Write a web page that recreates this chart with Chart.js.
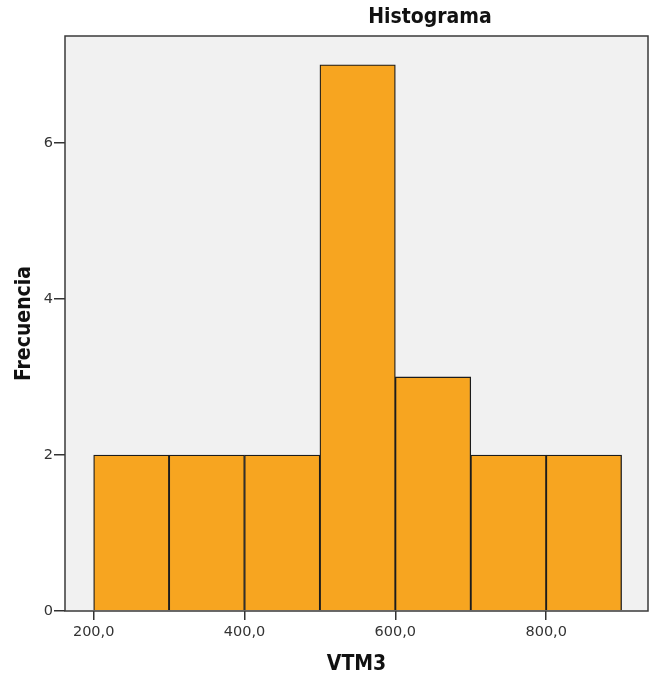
<!DOCTYPE html>
<html>
<head>
<meta charset="utf-8">
<script src="https://cdn.jsdelivr.net/npm/chart.js@4"></script>
<style>
  html, body { margin: 0; padding: 0; background: #fff; }
  #wrap { width: 655px; height: 681px; position: relative; }
</style>
</head>
<body>
<div id="wrap"><canvas id="myChart"></canvas></div>
<script>
    // histogram bins (centre of each 100-wide bin) and counts
    var binCenters = [250, 350, 450, 550, 650, 750, 850];
    var counts = [2, 2, 2, 7, 3, 2, 2];
    var xTicks = [200, 400, 600, 800];
    var yTicks = [0, 2, 4, 6];

    var plotBg = {
        id: 'plotBg',
        beforeDraw: function (chart) {
            var a = chart.chartArea, c = chart.ctx;
            c.save();
            c.fillStyle = '#f1f1f1';
            c.fillRect(a.left, a.top, a.right - a.left, a.bottom - a.top);
            c.restore();
        },
        afterDraw: function (chart) {
            var a = chart.chartArea, c = chart.ctx;
            c.save();
            c.strokeStyle = '#3a3a3a';
            c.lineWidth = 1.5;
            c.strokeRect(a.left, a.top, a.right - a.left, a.bottom - a.top);
            // title, SPSS puts it off centre
            c.fillStyle = '#111';
            c.font = 'bold 21px "DejaVu Sans Condensed", "DejaVu Sans"';
            c.textAlign = 'center';
            c.textBaseline = 'middle';
            c.fillText('Histograma', 430, 18);
            c.restore();
        }
    };

    const ctx = document.getElementById('myChart');
    new Chart(ctx, {
        type: 'bar',
        data: {
            datasets: [{
                data: binCenters.map(function (x, i) { return { x: x, y: counts[i] }; }),
                backgroundColor: '#f7a520',
                borderColor: '#1c1c1c',
                borderWidth: 1.3,
                barPercentage: 1,
                categoryPercentage: 1
            }]
        },
        options: {
            responsive: true,
            maintainAspectRatio: false,
            animation: false,
            layout: { padding: { top: 36, right: 7, left: 0, bottom: 0 } },
            plugins: {
                legend: { display: false },
                tooltip: { enabled: false }
            },
            scales: {
                x: {
                    type: 'linear',
                    offset: false,
                    min: 162,
                    max: 935,
                    afterBuildTicks: function (s) { s.ticks = xTicks.map(function (v) { return { value: v }; }); },
                    afterFit: function (s) { s.height = 70; },
                    grid: { offset: false, drawOnChartArea: false, tickLength: 9, color: '#333', lineWidth: 1.5 },
                    border: { display: false },
                    ticks: {
                        color: '#333',
                        font: { family: '"DejaVu Sans"', size: 14.5 },
                        padding: 4,
                        maxRotation: 0,
                        callback: function (v) { return v.toFixed(1).replace('.', ','); }
                    },
                    title: {
                        display: true,
                        text: 'VTM3',
                        color: '#111',
                        font: { family: '"DejaVu Sans Condensed", "DejaVu Sans"', size: 21, weight: 'bold' },
                        padding: { top: 6 }
                    }
                },
                y: {
                    min: 0,
                    max: 7.37,
                    afterBuildTicks: function (s) { s.ticks = yTicks.map(function (v) { return { value: v }; }); },
                    afterFit: function (s) { s.width = 65; },
                    grid: { drawOnChartArea: false, tickLength: 11, color: '#333', lineWidth: 1.5 },
                    border: { display: false },
                    ticks: {
                        color: '#333',
                        font: { family: '"DejaVu Sans"', size: 14.5 },
                        padding: 1
                    },
                    title: {
                        display: true,
                        text: 'Frecuencia',
                        color: '#111',
                        font: { family: '"DejaVu Sans Condensed", "DejaVu Sans"', size: 21, weight: 'bold' },
                        padding: { bottom: 4, top: 12 }
                    }
                }
            }
        },
        plugins: [plotBg]
    });
</script>
</body>
</html>
